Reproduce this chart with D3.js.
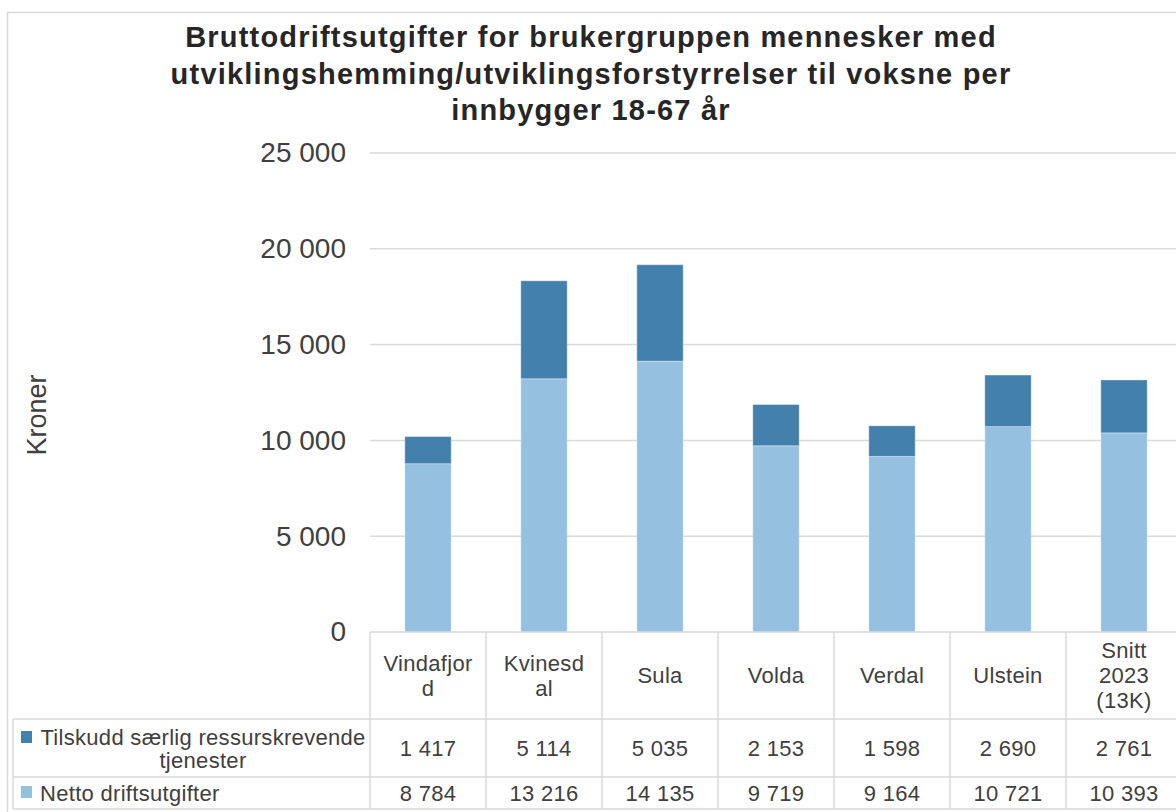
<!DOCTYPE html>
<html>
<head>
<meta charset="utf-8">
<script src="https://cdn.jsdelivr.net/npm/d3@7"></script>
<style>
  body { margin: 0; background: #fff; }
  text { font-family: "Liberation Sans", Arial, sans-serif; fill: #404040; }
</style>
</head>
<body>
<svg id="vis" width="1176" height="812"></svg>
<script>
const categories = ['Vindafjord', 'Kvinesdal', 'Sula', 'Volda', 'Verdal', 'Ulstein', 'Snitt 2023 (13K)'];
// wrapped header lines as they show in the data table
const categoryLines = [['Vindafjor', 'd'], ['Kvinesd', 'al'], ['Sula'], ['Volda'], ['Verdal'], ['Ulstein'], ['Snitt', '2023', '(13K)']];
const netto = [8784, 13216, 14135, 9719, 9164, 10721, 10393];
const tilskudd = [1417, 5114, 5035, 2153, 1598, 2690, 2761];
const seriesNames = ['Tilskudd særlig ressurskrevende tjenester', 'Netto driftsutgifter'];
const yTicks = [0, 5000, 10000, 15000, 20000, 25000];
const titleLines = [
  'Bruttodriftsutgifter for brukergruppen mennesker med',
  'utviklingshemming/utviklingsforstyrrelser til voksne per',
  'innbygger 18-67 år',
];

const svg = d3.select('#vis');
const width = +svg.attr('width');

const colors = { tilskudd: '#4480ac', netto: '#96c0e0' };
const gridColor = '#d9d9d9';

// plot area
const plotLeft = 370;
const plotRight = 1182;
const plotTop = 153;
const plotBottom = 632;

// table rows
const headerBottom = 719;
const row1Bottom = 777;
const row2Bottom = 809;
const tableLeft = 13;

const nb = d3.formatLocale({ decimal: ',', thousands: ' ', grouping: [3], currency: ['', ''] });
const fmt = nb.format(',d');

// chart border
svg.append('rect')
  .attr('x', 7.5).attr('y', 12.5)
  .attr('width', width + 20).attr('height', 812)
  .attr('fill', 'none').attr('stroke', gridColor).attr('stroke-width', 1.5);

// title
svg.append('text')
  .attr('x', 591)
  .attr('y', 47)
  .attr('text-anchor', 'middle')
  .style('font-size', '29px')
  .style('font-weight', 'bold')
  .style('letter-spacing', '1.2px')
  .style('fill', '#262626')
  .selectAll('tspan')
  .data(titleLines)
  .join('tspan')
  .attr('x', 591)
  .attr('dy', (d, i) => (i === 0 ? 0 : 36.5))
  .text(d => d);

const x = d3.scaleBand()
  .domain(categories)
  .range([plotLeft, plotRight])
  .paddingInner(0.6)
  .paddingOuter(0.3);

const y = d3.scaleLinear()
  .domain([0, 25000])
  .range([plotBottom, plotTop]);

// gridlines
svg.append('g')
  .selectAll('line')
  .data(yTicks.filter(d => d > 0))
  .join('line')
  .attr('x1', plotLeft).attr('x2', plotRight)
  .attr('y1', d => y(d)).attr('y2', d => y(d))
  .attr('stroke', gridColor).attr('stroke-width', 1.5);

// y axis labels
const yAxis = svg.append('g')
  .attr('transform', `translate(${plotLeft},0)`)
  .call(d3.axisLeft(y).tickValues(yTicks).tickFormat(fmt).tickSize(0).tickPadding(24));
yAxis.select('.domain').remove();
yAxis.selectAll('text')
  .style('font-size', '28px')
  .style('font-family', '"Liberation Sans", Arial, sans-serif')
  .attr('fill', '#404040');

// y axis title
svg.append('text')
  .attr('transform', 'translate(46,415) rotate(-90)')
  .attr('text-anchor', 'middle')
  .style('font-size', '27px')
  .text('Kroner');

// stacked bars
const rows = categories.map((c, i) => ({ cat: c, netto: netto[i], tilskudd: tilskudd[i] }));
const stacked = d3.stack().keys(['netto', 'tilskudd'])(rows);

svg.append('g')
  .selectAll('g')
  .data(stacked)
  .join('g')
  .attr('fill', d => colors[d.key])
  .selectAll('rect')
  .data(d => d)
  .join('rect')
  .attr('x', d => x(d.data.cat))
  .attr('y', d => y(d[1]))
  .attr('width', x.bandwidth())
  .attr('height', d => y(d[0]) - y(d[1]))
  .attr('stroke', '#ffffff')
  .attr('stroke-opacity', 0.35)
  .attr('stroke-width', 1);

// data table lines
const table = svg.append('g')
  .attr('stroke', gridColor)
  .attr('stroke-width', 1.5);

table.append('line')
  .attr('x1', plotLeft).attr('x2', plotRight)
  .attr('y1', plotBottom).attr('y2', plotBottom);
[headerBottom, row1Bottom, row2Bottom].forEach(yy => {
  table.append('line')
    .attr('x1', tableLeft).attr('x2', plotRight)
    .attr('y1', yy).attr('y2', yy);
});
table.append('line')
  .attr('x1', tableLeft).attr('x2', tableLeft)
  .attr('y1', headerBottom).attr('y2', row2Bottom);
const step = x.step();
d3.range(categories.length + 1).forEach(i => {
  const xx = plotLeft + i * step;
  table.append('line')
    .attr('x1', xx).attr('x2', xx)
    .attr('y1', plotBottom).attr('y2', row2Bottom);
});

const tableFont = { size: '22px', spacing: '0.3px' };

// header category labels
const headerMid = (plotBottom + headerBottom) / 2;
svg.append('g')
  .selectAll('text')
  .data(categories)
  .join('text')
  .attr('text-anchor', 'middle')
  .style('font-size', tableFont.size)
  .style('letter-spacing', tableFont.spacing)
  .each(function (c, i) {
    const lines = categoryLines[i];
    const cx = x(c) + x.bandwidth() / 2;
    const lh = 25;
    const y0 = headerMid - ((lines.length - 1) * lh) / 2;
    d3.select(this)
      .selectAll('tspan')
      .data(lines)
      .join('tspan')
      .attr('x', cx)
      .attr('y', (d, j) => y0 + j * lh)
      .attr('dy', '0.35em')
      .text(d => d);
  });

// table values
const row1Mid = (headerBottom + row1Bottom) / 2;
const row2Mid = (row1Bottom + row2Bottom) / 2;
[[tilskudd, row1Mid], [netto, row2Mid]].forEach(([vals, ym]) => {
  svg.append('g')
    .selectAll('text')
    .data(vals)
    .join('text')
    .attr('x', (d, i) => x(categories[i]) + x.bandwidth() / 2)
    .attr('y', ym)
    .attr('dy', '0.35em')
    .attr('text-anchor', 'middle')
    .style('font-size', tableFont.size)
    .style('letter-spacing', tableFont.spacing)
    .text(d => fmt(d));
});

// legend keys in table
svg.append('rect')
  .attr('x', 21).attr('y', 731).attr('width', 11).attr('height', 12)
  .attr('fill', colors.tilskudd);
svg.append('text')
  .attr('text-anchor', 'middle')
  .style('font-size', tableFont.size)
  .style('letter-spacing', tableFont.spacing)
  .selectAll('tspan')
  .data(['Tilskudd særlig ressurskrevende', 'tjenester'])
  .join('tspan')
  .attr('x', 203)
  .attr('y', (d, i) => 737 + i * 23)
  .attr('dy', '0.35em')
  .text(d => d);

svg.append('rect')
  .attr('x', 21).attr('y', 786).attr('width', 11).attr('height', 12)
  .attr('fill', colors.netto);
svg.append('text')
  .attr('x', 40)
  .attr('y', row2Mid)
  .attr('dy', '0.35em')
  .style('font-size', tableFont.size)
  .style('letter-spacing', tableFont.spacing)
  .text(seriesNames[1]);
</script>
</body>
</html>
